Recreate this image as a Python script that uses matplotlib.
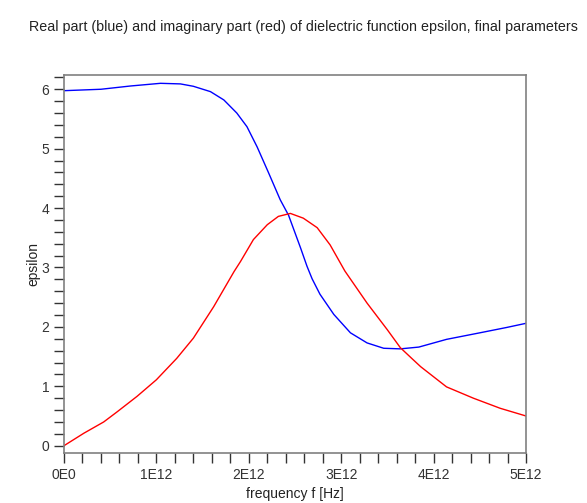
import numpy as np
import matplotlib.pyplot as plt
from matplotlib.ticker import MultipleLocator, FuncFormatter

plt.rcParams['font.family'] = ['Liberation Sans', 'DejaVu Sans']

# frequency in units of 1E12 Hz
f_real = [0.0, 0.40, 0.72, 1.044, 1.26, 1.40, 1.585, 1.73, 1.87, 1.98, 2.09, 2.215,
          2.34, 2.43, 2.56, 2.63, 2.685, 2.77, 2.92, 3.10, 3.28, 3.46, 3.64, 3.84,
          4.14, 4.5, 4.79, 5.0]
eps_real = [5.976, 6.0, 6.055, 6.10, 6.09, 6.05, 5.96, 5.82, 5.60, 5.37, 5.03, 4.59,
            4.14, 3.88, 3.33, 3.02, 2.81, 2.55, 2.21, 1.90, 1.73, 1.64, 1.63, 1.66,
            1.79, 1.90, 1.99, 2.06]

f_imag = [0.0, 0.215, 0.43, 0.575, 0.79, 1.0, 1.22, 1.40, 1.62, 1.84, 1.91, 2.05,
          2.20, 2.32, 2.45, 2.59, 2.74, 2.88, 3.04, 3.28, 3.50, 3.64, 3.77, 3.86,
          4.14, 4.43, 4.72, 5.0]
eps_imag = [0.0, 0.21, 0.40, 0.57, 0.83, 1.11, 1.47, 1.81, 2.34, 2.93, 3.10, 3.47,
            3.72, 3.86, 3.91, 3.83, 3.67, 3.38, 2.94, 2.40, 1.95, 1.65, 1.46, 1.33,
            0.99, 0.80, 0.63, 0.50]

fig = plt.figure(figsize=(5.87, 5.03), dpi=100)
ax = fig.add_axes([64 / 587, 1 - 453 / 503, 462 / 587, 378 / 503])

ax.plot(f_real, eps_real, color='#0000ff', lw=1.0)
ax.plot(f_imag, eps_imag, color='#ff0000', lw=1.0)

ax.set_xlim(0, 5)
ax.set_ylim(-0.123, 6.24)
ax.xaxis.set_major_locator(MultipleLocator(1))
ax.xaxis.set_minor_locator(MultipleLocator(0.2))
ax.yaxis.set_major_locator(MultipleLocator(1))
ax.yaxis.set_minor_locator(MultipleLocator(0.2))
ax.xaxis.set_major_formatter(FuncFormatter(lambda v, p: '0E0' if v == 0 else '%dE12' % round(v)))
ax.yaxis.set_major_formatter(FuncFormatter(lambda v, p: '%d' % round(v)))

for s in ax.spines.values():
    s.set_color('#808080')
    s.set_linewidth(1.2)
ax.tick_params(which='both', direction='out', length=7.5, width=1.0, color='#333333',
               labelsize=10, labelcolor='#333333', pad=3)

ax.set_xlabel('frequency f [Hz]', fontsize=10, color='#222222', labelpad=4)
ax.set_ylabel('epsilon', fontsize=10, color='#222222', labelpad=1)
fig.text(0.517, 1 - 27 / 503, 'Real part (blue) and imaginary part (red) of dielectric function epsilon, final parameters',
         ha='center', va='center', fontsize=10.3, color='#222222')

plt.savefig('out.png', dpi=100)
